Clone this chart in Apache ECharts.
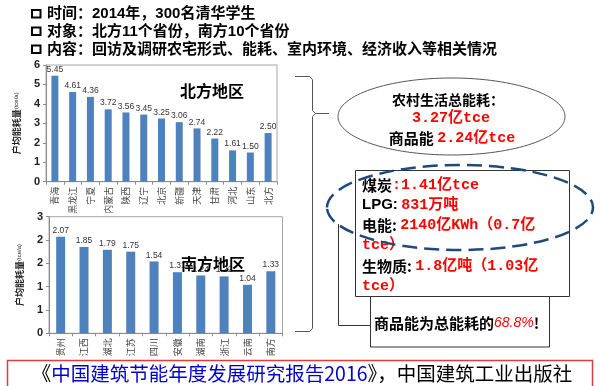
<!DOCTYPE html>
<html><head><meta charset="utf-8">
<script src="https://cdn.jsdelivr.net/npm/echarts@6/dist/echarts.min.js"></script>
<style>html,body{margin:0;padding:0;background:#fff}#c{width:600px;height:386px}</style>
</head><body><div id="c"></div>
<script>
var northCats = ['青海','黑龙江','宁夏','内蒙古','陕西','辽宁','北京','新疆','天津','甘肃','河北','山东','北方'];
var northVals = [5.45,4.61,4.36,3.72,3.56,3.45,3.25,3.06,2.74,2.22,1.61,1.50,2.50];
var southCats = ['贵州','江西','湖北','江苏','四川','安徽','湖南','浙江','云南','南方'];
var southVals = [2.07,1.85,1.79,1.75,1.54,1.31,1.24,1.22,1.04,1.33];
var northTicks = {min:0,max:6,interval:1};
var southTicks = {min:0,max:2.5,interval:0.5};

var CJK = "'Noto Sans CJK SC'";
var SANS = "'Liberation Sans', 'Noto Sans CJK SC'";
var MONO = "'Liberation Mono', 'Noto Sans CJK SC'";
var chart = echarts.init(document.getElementById('c'), null, {renderer:'canvas'});

function yAxisDef(idx, t, fmt){
  return {gridIndex: idx, type:'value', min:t.min, max:t.max, interval:t.interval,
    name:'{a|户均能耗量}{b|(tce/a)}', nameLocation:'middle', nameGap:25, nameRotate:90,
    nameTextStyle:{rich:{a:{fontSize:9,color:'#222',fontFamily:CJK,fontWeight:'bold'},b:{fontSize:6,color:'#222',fontFamily:SANS}}},
    axisLine:{show:true,lineStyle:{color:'#8c8c8c'}},
    axisTick:{show:true,length:3,lineStyle:{color:'#8c8c8c'}},
    splitLine:{show:false},
    axisLabel:{fontSize:11,color:'#222',fontWeight:'bold',fontFamily:SANS,margin:6,formatter:fmt}
  };
}
function xAxisDef(idx, cats){
  return {gridIndex: idx, type:'category', data:cats,
    axisLine:{show:true,lineStyle:{color:'#8c8c8c'}},
    axisTick:{show:true,length:3,lineStyle:{color:'#8c8c8c'}},
    axisLabel:{rotate:90,fontSize:9,color:'#444',fontFamily:CJK,margin:5,interval:0}
  };
}
function barDef(idx, vals, w){
  return {type:'bar', xAxisIndex:idx, yAxisIndex:idx, data:vals, barWidth:w,
    itemStyle:{color:'#4F81BD'},
    label:{show:true,position:'top',distance:2,fontSize:8.5,color:'#333',fontFamily:SANS,
      formatter:function(p){return p.value.toFixed(2);}}
  };
}

var blk = {fontFamily:CJK, fontWeight:'bold', fontSize:15, fill:'#000'};
var red = {fontFamily:MONO, fontWeight:'bold', fontSize:15, fill:'#FF0000'};

var graphics = [
  {type:'rect', shape:{x:32,y:10,width:8.5,height:7.5}, style:{fill:'none',stroke:'#000',lineWidth:2}},
  {type:'rect', shape:{x:32,y:27.5,width:8.5,height:7.5}, style:{fill:'none',stroke:'#000',lineWidth:2}},
  {type:'rect', shape:{x:32,y:45.5,width:8.5,height:7.5}, style:{fill:'none',stroke:'#000',lineWidth:2}},
  {type:'text', x:47, y:14, style:{text:'时间：2014年，300名清华学生', font:"bold 15px "+SANS, fill:'#000', textVerticalAlign:'middle'}},
  {type:'text', x:47, y:31.5, style:{text:'对象：北方11个省份，南方10个省份', font:"bold 15px "+SANS, fill:'#000', textVerticalAlign:'middle'}},
  {type:'text', x:47, y:49.5, style:{text:'内容：回访及调研农宅形式、能耗、室内环境、经济收入等相关情况', font:"bold 15px "+SANS, fill:'#000', textVerticalAlign:'middle'}},
  {type:'text', x:212, y:91, z:10, style:{text:'北方地区', font:"bold 16px "+CJK, fill:'#000', textAlign:'center', textVerticalAlign:'middle'}},
  {type:'text', x:213, y:264, z:10, style:{text:'南方地区', font:"bold 16px "+CJK, fill:'#000', textAlign:'center', textVerticalAlign:'middle'}},
  {type:'polyline', shape:{points:[[295,76.5],[309.5,76.5],[312.5,79.5],[312.5,110.5],[315.5,113.5],[329,113.5],[315.5,113.5],[312.5,116.5],[312.5,328.5],[309.5,331.5],[295,331.5]]}, style:{fill:'none',stroke:'#555',lineWidth:1}},
  {type:'ellipse', shape:{cx:451.5,cy:116.5,rx:113.5,ry:38.5}, style:{fill:'#fff',stroke:'#555',lineWidth:1}},
  {type:'text', x:448, y:99.5, style:{text:'农村生活总能耗：', font:"bold 14px "+CJK, fill:'#000', textAlign:'center', textVerticalAlign:'middle'}},
  {type:'text', x:451, y:118.5, style:{text:'3.27亿tce', font:"bold 15px "+MONO, fill:'#FF0000', textAlign:'center', textVerticalAlign:'middle'}},
  {type:'text', x:452, y:138.5, style:{text:'{b|商品能} {r|2.24亿tce}', rich:{b:blk, r:red}, textAlign:'center', textVerticalAlign:'middle'}},
  {type:'rect', shape:{x:355.5,y:170.5,width:214,height:126}, style:{fill:'#fff',stroke:'#333',lineWidth:1}},
  {type:'text', x:362, y:185, style:{text:'{b|煤炭}{r|:1.41亿tce}', rich:{b:blk, r:red}, textVerticalAlign:'middle'}},
  {type:'text', x:362, y:205, style:{text:'{b|LPG:} {r|831万吨}', rich:{b:{fontFamily:SANS,fontWeight:'bold',fontSize:15,fill:'#000'}, r:red}, textVerticalAlign:'middle'}},
  {type:'text', x:362, y:225, style:{text:'{b|电能:} {r|2140亿KWh（0.7亿}', rich:{b:blk, r:red}, textVerticalAlign:'middle'}},
  {type:'text', x:362, y:245, style:{text:'{r|tce）}', rich:{r:red}, textVerticalAlign:'middle'}},
  {type:'text', x:362, y:266.5, style:{text:'{b|生物质:} {r|1.8亿吨（1.03亿}', rich:{b:blk, r:red}, textVerticalAlign:'middle'}},
  {type:'text', x:362, y:286, style:{text:'{r|tce）}', rich:{r:red}, textVerticalAlign:'middle'}},
  {type:'ellipse', z:20, shape:{cx:460,cy:207.5,rx:133,ry:42.5}, style:{fill:'none',stroke:'#1F497D',lineWidth:2.5,lineDash:[15,7]}},
  {type:'polyline', shape:{points:[[338.5,224],[338.5,325.5],[370,325.5]]}, style:{fill:'none',stroke:'#333',lineWidth:1}},
  {type:'rect', shape:{x:370.5,y:296.5,width:179,height:50.5}, style:{fill:'#fff',stroke:'#333',lineWidth:1}},
  {type:'text', x:374, y:323.5, style:{text:'{b|商品能为总能耗的}{r|68.8%}{b|!}', rich:{b:blk, r:{fontFamily:SANS,fontStyle:'italic',fontSize:14,fill:'#FF0000'}}, textVerticalAlign:'middle'}},
  {type:'rect', shape:{x:7.5,y:360.5,width:585,height:30}, style:{fill:'none',stroke:'#E03C3C',lineWidth:1.5}},
  {type:'text', x:302, y:374, style:{text:'{k|《}{u|中国建筑节能年度发展研究报告2016}{k|》，中国建筑工业出版社}', rich:{k:{fontFamily:CJK,fontSize:19.5,fill:'#000'},u:{fontFamily:CJK,fontSize:19.5,fill:'#0000CC'}}, textAlign:'center', textVerticalAlign:'middle'}}
];

chart.setOption({
  animation:false,
  grid:[
    {left:46, top:65, right:323, bottom:204.3, show:true, borderColor:'#A6A6A6', borderWidth:1, backgroundColor:'transparent'},
    {left:49, top:216.7, right:317.5, bottom:52.7, show:true, borderColor:'#A6A6A6', borderWidth:1, backgroundColor:'transparent'}
  ],
  xAxis:[xAxisDef(0,northCats), xAxisDef(1,southCats)],
  yAxis:[yAxisDef(0,northTicks), yAxisDef(1,southTicks,function(v){return String(Math.round(v));})],
  series:[barDef(0,northVals,7), barDef(1,southVals,9)],
  graphic:{elements:graphics}
});
</script></body></html>
